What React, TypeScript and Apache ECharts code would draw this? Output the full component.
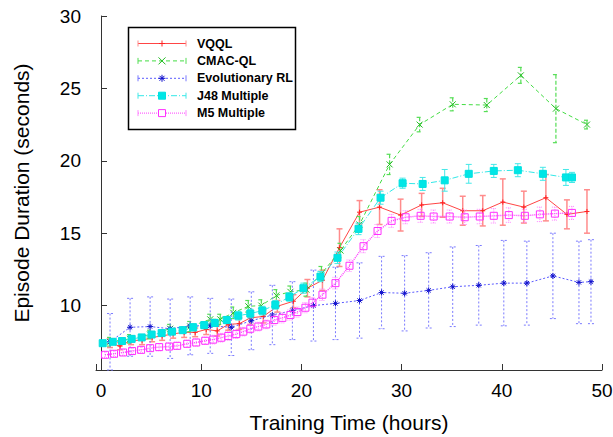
import React, { useEffect, useRef } from 'react';
import * as echarts from 'echarts';

// ---- data (hours, seconds, +/- error) ----
const vqqlT = [0.9, 1.9, 3.0, 4.1, 5.1, 6.1, 7.2, 8.3, 9.4, 10.5, 11.6, 12.7, 13.8, 14.9, 16.2, 17.6, 19.2, 20.6, 22.1, 23.8, 25.8, 27.8, 29.9, 32.0, 34.1, 36.1, 38.1, 40.1, 42.2, 44.4, 46.5, 48.5];
const vqqlV = [7.4, 7.2, 7.6, 7.6, 7.8, 7.9, 8.05, 8.15, 8.15, 8.35, 8.25, 8.7, 8.75, 9.15, 9.25, 9.95, 10.3, 11.2, 11.75, 14.0, 16.45, 16.8, 16.25, 16.95, 17.1, 16.55, 16.55, 17.15, 16.8, 17.45, 16.3, 16.5];
const vqqlE = [0.3, 0.25, 0.3, 0.3, 0.3, 0.3, 0.3, 0.35, 0.3, 0.35, 0.35, 0.4, 0.4, 0.45, 0.45, 0.4, 0.45, 0.6, 0.7, 1.3, 0.8, 1.2, 1.1, 0.8, 1.0, 1.0, 1.05, 1.6, 1.1, 1.6, 1.0, 1.5];

const cmacT = [0.9, 2.9, 4.9, 6.9, 8.9, 10.9, 11.9, 13.2, 14.7, 16.0, 17.5, 18.9, 20.5, 22.0, 23.9, 25.8, 28.8, 31.8, 35.1, 38.5, 41.9, 45.4, 48.5];
const cmacV = [7.5, 7.7, 8.0, 8.4, 8.55, 9.05, 9.05, 9.5, 9.95, 10.0, 10.7, 10.95, 11.1, 12.2, 13.8, 15.6, 19.75, 22.5, 23.9, 23.85, 25.9, 23.6, 22.5];
const cmacE = [0.3, 0.3, 0.3, 0.3, 0.35, 0.35, 0.35, 0.4, 0.4, 0.4, 0.4, 0.4, 0.45, 0.5, 0.5, 0.55, 0.7, 0.5, 0.45, 0.45, 0.55, 2.35, 0.3];

const evoT = [0.9, 2.9, 4.9, 6.9, 8.9, 10.9, 13.0, 15.0, 17.1, 19.1, 21.2, 23.4, 25.8, 28.0, 30.3, 32.7, 35.1, 37.7, 40.2, 42.5, 45.1, 47.7, 48.9];
const evoV = [7.5, 8.5, 8.55, 8.4, 8.6, 8.6, 8.5, 8.95, 9.35, 9.65, 10.0, 10.15, 10.35, 10.9, 10.85, 11.05, 11.3, 11.4, 11.55, 11.55, 12.05, 11.6, 11.65];
const evoE = [1.95, 2.0, 2.05, 2.05, 2.0, 1.9, 1.95, 2.0, 2.05, 2.0, 2.45, 2.5, 2.6, 2.5, 2.6, 2.6, 2.75, 2.75, 2.95, 2.9, 2.95, 2.85, 2.9];

const j48T = [0.17, 1.17, 2.1, 3.06, 4.06, 5.05, 6.05, 7.08, 8.15, 9.2, 10.3, 11.35, 12.55, 13.7, 14.9, 16.1, 17.4, 18.8, 20.2, 21.9, 23.6, 25.7, 27.9, 30.1, 32.1, 34.3, 36.7, 39.2, 41.6, 44.1, 46.4, 47.0];
const j48V = [7.4, 7.5, 7.55, 7.7, 7.8, 8.0, 8.1, 8.2, 8.3, 8.5, 8.65, 8.8, 9.0, 9.3, 9.45, 9.65, 10.05, 10.6, 11.2, 12.0, 13.3, 15.3, 17.45, 18.45, 18.4, 18.65, 19.1, 19.3, 19.35, 19.1, 18.85, 18.85];
const j48E = [0.15, 0.15, 0.15, 0.2, 0.2, 0.2, 0.2, 0.2, 0.2, 0.25, 0.25, 0.25, 0.25, 0.3, 0.3, 0.3, 0.3, 0.3, 0.35, 0.35, 0.4, 0.4, 0.45, 0.35, 0.45, 0.75, 0.65, 0.45, 0.45, 0.45, 0.55, 0.35];

const m5T = [0.4, 1.3, 2.2, 3.1, 4.0, 4.9, 5.8, 6.8, 7.6, 8.6, 9.5, 10.4, 11.2, 12.0, 12.7, 13.5, 14.2, 14.9, 15.7, 16.5, 17.3, 18.1, 18.9, 19.6, 20.4, 21.1, 22.1, 23.4, 24.8, 26.2, 27.6, 29.0, 30.4, 31.9, 33.2, 34.8, 36.3, 37.8, 39.2, 40.7, 42.3, 43.8, 45.3, 47.0];
const m5V = [6.6, 6.67, 6.76, 6.86, 6.94, 7.06, 7.13, 7.17, 7.22, 7.36, 7.45, 7.57, 7.65, 7.78, 7.9, 8.03, 8.2, 8.4, 8.55, 8.7, 9.0, 9.15, 9.35, 9.55, 9.85, 10.2, 10.75, 11.55, 12.75, 14.1, 15.15, 15.85, 16.1, 16.2, 16.15, 16.15, 16.1, 16.15, 16.2, 16.25, 16.2, 16.3, 16.35, 16.4];
const m5E = [0.2, 0.2, 0.2, 0.2, 0.2, 0.2, 0.25, 0.25, 0.25, 0.25, 0.25, 0.25, 0.3, 0.3, 0.3, 0.3, 0.3, 0.3, 0.3, 0.3, 0.35, 0.35, 0.35, 0.35, 0.35, 0.35, 0.4, 0.4, 0.4, 0.45, 0.45, 0.45, 0.45, 0.45, 0.45, 0.45, 0.5, 0.5, 0.5, 0.5, 0.45, 0.5, 0.45, 0.45];

const seriesNames = ['VQQL', 'CMAC-QL', 'Evolutionary RL', 'J48 Multiple', 'M5 Multiple'];
const xTicks = [0, 10, 20, 30, 40, 50];
const yTicks = [10, 15, 20, 25, 30];

const FONT = '"Liberation Sans", Arial, sans-serif';

const PLUS = 'path://M0,5L10,5M5,0L5,10';
const CROSS = 'path://M0,0L10,10M10,0L0,10';
const STAR = 'path://M0,5L10,5M5,0L5,10M1.5,1.5L8.5,8.5M8.5,1.5L1.5,8.5';
const SQUARE = 'path://M0,0L10,0L10,10L0,10Z';

type Spec = {
  name: string; t: number[]; v: number[]; e: number[];
  line: string; bar: string; mark: string; markFill: string; dash: any; barDash: any;
  symbol: string; size: number; lw: number; barW: number;
};

const specs: Spec[] = [
  { name: seriesNames[0], t: vqqlT, v: vqqlV, e: vqqlE, line: '#ff4545', bar: '#ff8c8c', mark: '#ff2020', markFill: 'rgba(0,0,0,0)', dash: 'solid', barDash: 'solid', symbol: PLUS, size: 5, lw: 1, barW: 1.5 },
  { name: seriesNames[1], t: cmacT, v: cmacV, e: cmacE, line: '#44dd44', bar: '#55dd55', mark: '#22bb22', markFill: 'rgba(0,0,0,0)', dash: [4, 3], barDash: [4, 2], symbol: CROSS, size: 6, lw: 1, barW: 1.2 },
  { name: seriesNames[2], t: evoT, v: evoV, e: evoE, line: '#5a5aff', bar: '#7a7aff', mark: '#1010cc', markFill: 'rgba(0,0,0,0)', dash: [2, 2], barDash: [2, 2], symbol: STAR, size: 6, lw: 1, barW: 1 },
  { name: seriesNames[3], t: j48T, v: j48V, e: j48E, line: '#33e8e8', bar: '#44e8e8', mark: '#00e0e0', markFill: '#00e6e6', dash: [6, 2, 1, 2], barDash: 'solid', symbol: SQUARE, size: 7, lw: 1, barW: 1 },
  { name: seriesNames[4], t: m5T, v: m5V, e: m5E, line: '#ff3cff', bar: '#ff88ff', mark: '#ff30ff', markFill: 'rgba(0,0,0,0)', dash: [1, 1], barDash: [1, 1], symbol: SQUARE, size: 7, lw: 1.4, barW: 1 },
];

function buildSeries() {
  const out: any[] = [];
  specs.forEach((s, i) => {
    const barData = s.t.map((t, k) => [t, s.v[k] - s.e[k], s.v[k] + s.e[k]]);
    out.push({
      type: 'custom',
      name: s.name + ' err',
      data: barData,
      encode: { x: 0, y: [1, 2] },
      z: 2 + i * 2,
      clip: false,
      renderItem: (params: any, api: any) => {
        const x = api.value(0);
        const lo = api.coord([x, api.value(1)]);
        const hi = api.coord([x, api.value(2)]);
        const w = 3;
        const style = { stroke: s.bar, lineWidth: s.barW, lineDash: s.barDash === 'solid' ? null : s.barDash, fill: null };
        return {
          type: 'group',
          children: [
            { type: 'line', shape: { x1: hi[0], y1: hi[1], x2: lo[0], y2: lo[1] }, style },
            { type: 'line', shape: { x1: hi[0] - w, y1: hi[1], x2: hi[0] + w, y2: hi[1] }, style },
            { type: 'line', shape: { x1: lo[0] - w, y1: lo[1], x2: lo[0] + w, y2: lo[1] }, style },
          ],
        };
      },
    });
    out.push({
      type: 'line',
      name: s.name,
      data: s.t.map((t, k) => [t, s.v[k]]),
      z: 3 + i * 2,
      symbol: s.symbol,
      symbolSize: s.size,
      showSymbol: true,
      showAllSymbol: true,
      clip: false,
      lineStyle: { color: s.line, width: s.lw, type: s.dash },
      itemStyle: { color: s.markFill, borderColor: s.mark, borderWidth: 1 },
      emphasis: { disabled: true },
    });
  });
  return out;
}

function buildLegend() {
  const els: any[] = [];
  els.push({ type: 'rect', shape: { x: 128.5, y: 27.5, width: 167, height: 102 }, style: { fill: '#fff', stroke: '#000', lineWidth: 1.5 }, z: 100 });
  specs.forEach((s, i) => {
    const y = 43.5 + 17.4 * i;
    const lineStyle = { stroke: s.line, lineWidth: 1, lineDash: s.dash === 'solid' ? null : s.dash };
    const capStyle = { stroke: s.bar, lineWidth: 1 };
    els.push({ type: 'line', shape: { x1: 138, y1: y, x2: 186, y2: y }, style: lineStyle, z: 101 });
    els.push({ type: 'line', shape: { x1: 138, y1: y - 3, x2: 138, y2: y + 3 }, style: capStyle, z: 101 });
    els.push({ type: 'line', shape: { x1: 186, y1: y - 3, x2: 186, y2: y + 3 }, style: capStyle, z: 101 });
    const cx = 162;
    const ms = { stroke: s.mark, lineWidth: 1 };
    if (i === 0) {
      els.push({ type: 'line', shape: { x1: cx - 3, y1: y, x2: cx + 3, y2: y }, style: ms, z: 102 });
      els.push({ type: 'line', shape: { x1: cx, y1: y - 3, x2: cx, y2: y + 3 }, style: ms, z: 102 });
    } else if (i === 1) {
      els.push({ type: 'line', shape: { x1: cx - 3.5, y1: y - 3.5, x2: cx + 3.5, y2: y + 3.5 }, style: ms, z: 102 });
      els.push({ type: 'line', shape: { x1: cx - 3.5, y1: y + 3.5, x2: cx + 3.5, y2: y - 3.5 }, style: ms, z: 102 });
    } else if (i === 2) {
      els.push({ type: 'line', shape: { x1: cx - 3.5, y1: y, x2: cx + 3.5, y2: y }, style: ms, z: 102 });
      els.push({ type: 'line', shape: { x1: cx, y1: y - 3.5, x2: cx, y2: y + 3.5 }, style: ms, z: 102 });
      els.push({ type: 'line', shape: { x1: cx - 2.5, y1: y - 2.5, x2: cx + 2.5, y2: y + 2.5 }, style: ms, z: 102 });
      els.push({ type: 'line', shape: { x1: cx - 2.5, y1: y + 2.5, x2: cx + 2.5, y2: y - 2.5 }, style: ms, z: 102 });
    } else if (i === 3) {
      els.push({ type: 'rect', shape: { x: cx - 3.5, y: y - 3.5, width: 7, height: 7 }, style: { fill: s.markFill, stroke: s.mark, lineWidth: 1 }, z: 102 });
    } else {
      els.push({ type: 'rect', shape: { x: cx - 3.5, y: y - 3.5, width: 7, height: 7 }, style: { fill: '#fff', stroke: s.mark, lineWidth: 1 }, z: 102 });
    }
    els.push({
      type: 'text', x: 197, y, z: 102,
      style: { text: s.name, font: `bold 12.5px ${FONT}`, fill: '#000', textVerticalAlign: 'middle', verticalAlign: 'middle' },
    });
  });
  return els;
}

export default function App() {
  const ref = useRef<HTMLDivElement>(null);
  useEffect(() => {
    if (!ref.current) return;
    const chart = echarts.init(ref.current, null, { renderer: 'svg' });
    chart.setOption({
      animation: false,
      backgroundColor: '#fff',
      grid: { left: 96, right: 11, top: 16, bottom: 67, containLabel: false, outerBoundsMode: 'none' },
      xAxis: {
        type: 'value', min: -0.5, max: 50, minInterval: 10, maxInterval: 10,
        name: 'Training Time (hours)', nameLocation: 'middle', nameGap: 42,
        nameTextStyle: { fontSize: 21, color: '#000', fontFamily: FONT },
        axisLine: { show: true, lineStyle: { color: '#333', width: 1 } },
        axisTick: { show: true, inside: true, length: 6, lineStyle: { color: '#333' } },
        axisLabel: {
          fontSize: 19, color: '#000', fontFamily: FONT, margin: 11,
          formatter: (v: number) => (xTicks.includes(v) ? String(v) : ''),
        },
        splitLine: { show: false },
      },
      yAxis: {
        type: 'value', min: 5.55, max: 30, minInterval: 5, maxInterval: 5,
        name: 'Episode Duration (seconds)', nameLocation: 'middle', nameGap: 64,
        nameTextStyle: { fontSize: 21, color: '#000', fontFamily: FONT },
        axisLine: { show: true, lineStyle: { color: '#333', width: 1 } },
        axisTick: { show: true, inside: true, length: 6, lineStyle: { color: '#333' } },
        axisLabel: {
          fontSize: 19, color: '#000', fontFamily: FONT, margin: 15,
          formatter: (v: number) => (yTicks.includes(v) ? String(v) : ''),
        },
        splitLine: { show: false },
      },
      series: buildSeries(),
      graphic: buildLegend(),
    });
    return () => chart.dispose();
  }, []);
  return <div ref={ref} style={{ width: 613, height: 437, position: 'absolute', left: 0, top: 0 }} />;
}
